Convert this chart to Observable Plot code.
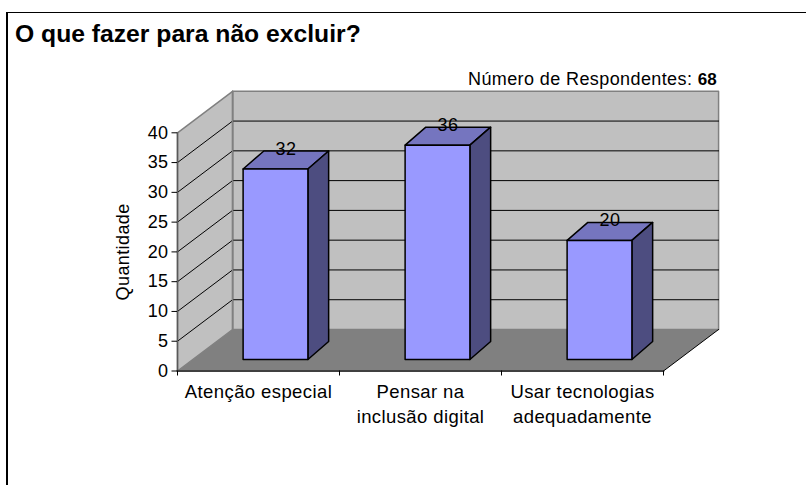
<!DOCTYPE html>
<html><head><meta charset="utf-8">
<script src="https://cdn.jsdelivr.net/npm/d3@7"></script>
<script src="https://cdn.jsdelivr.net/npm/@observablehq/plot@0.6"></script>
<style>
html,body{margin:0;padding:0;background:#fff;overflow:hidden}
#wrap{position:relative;width:806px;height:485px;font-family:"Liberation Sans",Arial,sans-serif;color:#000;overflow:hidden}
#frame{position:absolute;left:6px;top:12px;width:900px;height:600px;border:2px solid #000;border-top-width:1.5px}
#title{position:absolute;left:15px;top:19px;font-size:24.7px;font-weight:bold;line-height:30px;white-space:nowrap}
#note{position:absolute;left:468px;top:68px;font-size:18px;letter-spacing:.4px;line-height:22px;white-space:nowrap}
#note b{font-size:17px;letter-spacing:0}
#chart{position:absolute;left:0;top:88px}
#chart svg text{letter-spacing:.4px}
</style></head><body>
<div id="wrap"><div id="frame"></div>
<div id="title">O que fazer para não excluir?</div>
<div id="note">Número de Respondentes: <b>68</b></div>
<div id="chart"></div></div>
<script>
const categories = ["Atenção especial", "Pensar na\ninclusão digital", "Usar tecnologias\nadequadamente"];
const values = [32, 36, 20];
const yTicks = [0, 5, 10, 15, 20, 25, 30, 35, 40];
const catEdges = [0, 1, 2, 3];

// oblique depth of the floor, in scale units
const depthX = 0.34, depthY = 6.97, wallTop = 40;
// bar placement, in scale units
const barLeft = 0.405, barW = 0.4, barBase = 1.93, barDX = 0.128, barDY = 3.02;

const P = (x, y) => ({x, y});
function face(pts, fill, stroke, strokeWidth) {
  return Plot.line(pts, {x: "x", y: "y", curve: "linear-closed", fill, stroke: stroke || "none", strokeWidth: strokeWidth || 1});
}
const marks = [];
// back wall, side wall, floor
marks.push(face([P(depthX, depthY), P(3 + depthX, depthY), P(3 + depthX, wallTop + depthY), P(depthX, wallTop + depthY)], "#c0c0c0", "#808080", 1.5));
marks.push(face([P(0, 0), P(depthX, depthY), P(depthX, wallTop + depthY), P(0, wallTop)], "#c0c0c0", "#808080", 1.5));
marks.push(face([P(0, 0), P(3, 0), P(3 + depthX, depthY), P(depthX, depthY)], "#808080"));
// gridlines on both walls
for (const t of yTicks.slice(1)) {
  if (t < wallTop) marks.push(Plot.line([P(0, t), P(depthX, t + depthY), P(3 + depthX, t + depthY)], {x: "x", y: "y", stroke: "#000", strokeWidth: 1}));
}
marks.push(Plot.line([P(depthX, 40 + depthY), P(depthX, depthY)], {x: "x", y: "y", stroke: "#808080", strokeWidth: 1.5}));
marks.push(Plot.line([P(3, 0), P(3 + depthX, depthY)], {x: "x", y: "y", stroke: "#000", strokeWidth: 1}));
// bars
values.forEach((v, i) => {
  const L = i + barLeft, R = L + barW, B = barBase, T = barBase + v;
  marks.push(face([P(L, T), P(R, T), P(R + barDX, T + barDY), P(L + barDX, T + barDY)], "#7575bf", "#000", 1.5));
  marks.push(face([P(R, B), P(R + barDX, B + barDY), P(R + barDX, T + barDY), P(R, T)], "#4d4d80", "#000", 1.5));
  marks.push(face([P(L, B), P(R, B), P(R, T), P(L, T)], "#9999ff", "#000", 1.5));
});
// front axis lines
marks.push(Plot.line([P(0, 0), P(0, 40)], {x: "x", y: "y", stroke: "#595959", strokeWidth: 1.5}));
marks.push(Plot.line([P(0, 0), P(3, 0)], {x: "x", y: "y", stroke: "#404040", strokeWidth: 2}));
// axes
marks.push(Plot.axisY({ticks: yTicks, tickSize: 5.5, tickPadding: 3.5, label: null, fontSize: 18}));
marks.push(Plot.axisX({ticks: catEdges, tickSize: 5, tickFormat: () => "", label: null}));
// category labels
marks.push(Plot.text(categories, {x: (d, i) => i + 0.5, y: () => 0, text: d => d, lineAnchor: "top", dy: 9, fontSize: 18.5, lineHeight: 1.35}));
// value labels
marks.push(Plot.text(values, {x: (d, i) => i + barLeft + (barW + barDX) / 2, y: d => barBase + d + barDY, text: d => String(d), dy: -2, fontSize: 18}));
// y title
marks.push(Plot.text(["Quantidade"], {x: () => -1 / 3, y: () => 20, text: d => d, rotate: -90, fontSize: 18}));

const plot = Plot.plot({
  width: 806, height: 350,
  marginLeft: 177, marginRight: 143, marginTop: 44.3, marginBottom: 67.5,
  style: {fontFamily: '"Liberation Sans", Arial, sans-serif', color: "#000", background: "transparent"},
  x: {type: "linear", domain: [0, 3], axis: null},
  y: {type: "linear", domain: [0, 40], axis: null},
  marks
});
document.getElementById("chart").append(plot);
</script></body></html>
